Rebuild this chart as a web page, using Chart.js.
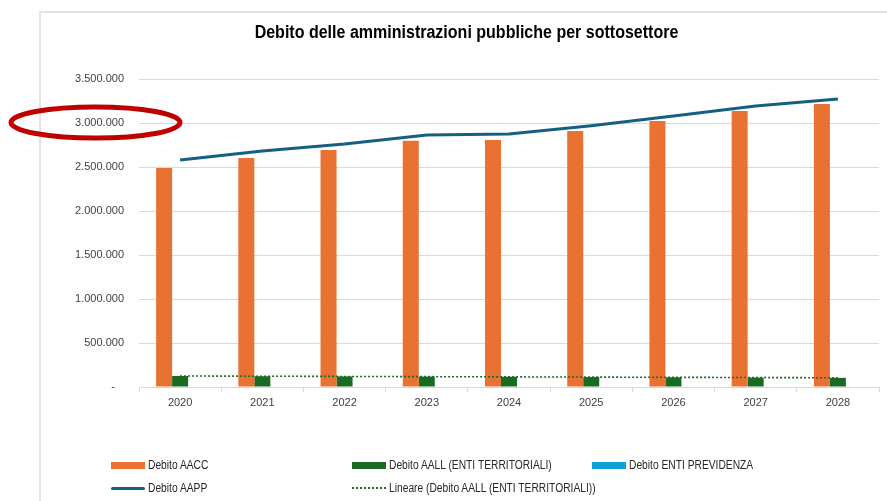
<!DOCTYPE html>
<html><head><meta charset="utf-8">
<script src="https://cdn.jsdelivr.net/npm/chart.js@4"></script>
<style>
html,body{margin:0;padding:0;background:#fff;width:887px;height:501px;overflow:hidden;position:relative;font-family:"Liberation Sans",Arial,sans-serif;}
#frame{position:absolute;left:39px;top:11px;width:900px;height:600px;border:2px solid #e3e3e3;box-sizing:border-box;}
#c{position:absolute;left:0;top:0;}
#title{position:absolute;left:0;width:933px;top:22px;text-align:center;font-family:"Liberation Sans",Arial,sans-serif;font-weight:bold;font-size:18px;color:#000;transform:scaleX(0.89);transform-origin:466.5px 0;}
.lg{position:absolute;font-family:"Liberation Sans",Arial,sans-serif;font-size:12.5px;color:#262626;line-height:14px;white-space:nowrap;transform:scaleX(0.82);transform-origin:0 0;}
.sw{position:absolute;}
#ell{position:absolute;left:0;top:0;}
</style></head>
<body>
<div id="frame"></div>
<canvas id="c" width="887" height="501"></canvas>
<div id="title">Debito delle amministrazioni pubbliche per sottosettore</div>
<div id="legend"></div>
<svg id="ell" width="887" height="501"><ellipse cx="95.5" cy="122.5" rx="84.5" ry="15.5" fill="none" stroke="#c00000" stroke-width="5"/></svg>
<script>
const categories = ["2020","2021","2022","2023","2024","2025","2026","2027","2028"];
const debitoAACC = [2490000,2602000,2693000,2797000,2807000,2909000,3023000,3136000,3216000];
const debitoAALL = [125000,122000,120000,118000,116000,113000,110000,107000,104000];
const debitoPrevidenza = [0,0,0,0,0,0,0,0,0];
const debitoAAPP = [2580000,2682000,2761000,2864000,2875000,2969000,3080000,3193000,3273000];
const trendAALL = [125000,null,null,null,null,null,null,null,105000];
const yTicks = [0,500000,1000000,1500000,2000000,2500000,3000000,3500000];
const labels = ["Debito AACC","Debito AALL (ENTI TERRITORIALI)","Debito ENTI PREVIDENZA","Debito AAPP","Lineare (Debito AALL (ENTI TERRITORIALI))"];
const colors = ["#E97132","#196B24","#0F9ED5","#156082","#196B24"];

function fmt(v){ if(v===0) return "-   "; return String(v).replace(/\B(?=(\d{3})+(?!\d))/g,"."); }

new Chart(document.getElementById('c'),{
  type:'bar',
  data:{labels:categories,datasets:[
    {label:labels[0],data:debitoAACC,backgroundColor:colors[0],categoryPercentage:0.584,barPercentage:1},
    {label:labels[1],data:debitoAALL,backgroundColor:colors[1],categoryPercentage:0.584,barPercentage:1},
    {label:labels[2],data:debitoPrevidenza,backgroundColor:colors[2],borderWidth:0,categoryPercentage:0.584,barPercentage:1},
    {type:'line',label:labels[3],data:debitoAAPP,borderColor:colors[3],borderWidth:3,pointRadius:0,tension:0,fill:false,order:-1},
    {type:'line',label:labels[4],data:trendAALL,borderColor:colors[4],borderWidth:1.6,borderDash:[2,2],pointRadius:0,spanGaps:true,fill:false,order:-2}
  ]},
  options:{
    responsive:false,animation:false,
    layout:{padding:{left:0,top:79,right:8,bottom:84}},
    plugins:{legend:{display:false},title:{display:false},tooltip:{enabled:false}},
    scales:{
      x:{
        grid:{display:true,drawOnChartArea:false,drawTicks:true,tickLength:5,color:'#d9d9d9',offset:true},
        border:{display:true,color:'#d9d9d9',width:1},
        ticks:{color:'#404040',font:{family:'"Liberation Sans", Arial',size:11},padding:4,maxRotation:0},
        afterFit(s){s.height=30;}
      },
      y:{
        min:0,max:3500000,
        afterBuildTicks(s){s.ticks=yTicks.map(v=>({value:v}));},
        grid:{color:'#d9d9d9',lineWidth:1,drawTicks:false},
        border:{display:false},
        ticks:{color:'#404040',font:{family:'"Liberation Sans", Arial',size:11},padding:15,callback:(v)=>fmt(v)},
        afterFit(s){s.width=139;}
      }
    }
  }
});

// HTML legend built from dataset labels
const lgPos = [[111,465,'bar'],[352,465,'bar'],[592,465,'bar'],[111,488,'line'],[352,488,'dot']];
const lg = document.getElementById('legend');
lgPos.forEach((p,i)=>{
  const sw=document.createElement('div'); sw.className='sw';
  if(p[2]==='bar'){ sw.style.cssText=`left:${p[0]}px;top:${p[1]-3.5}px;width:34px;height:7px;background:${colors[i]}`; }
  else if(p[2]==='line'){ sw.style.cssText=`left:${p[0]}px;top:${p[1]-1.5}px;width:34px;height:3px;background:${colors[i]};border-radius:2px`; }
  else { sw.style.cssText=`left:${p[0]}px;top:${p[1]-1}px;width:34px;height:0;border-top:2px dotted ${colors[i]}`; }
  lg.appendChild(sw);
  const t=document.createElement('div'); t.className='lg'; t.textContent=labels[i];
  t.style.left=(p[0]+37)+'px'; t.style.top=(p[1]-7)+'px';
  lg.appendChild(t);
});
</script>
</body></html>
